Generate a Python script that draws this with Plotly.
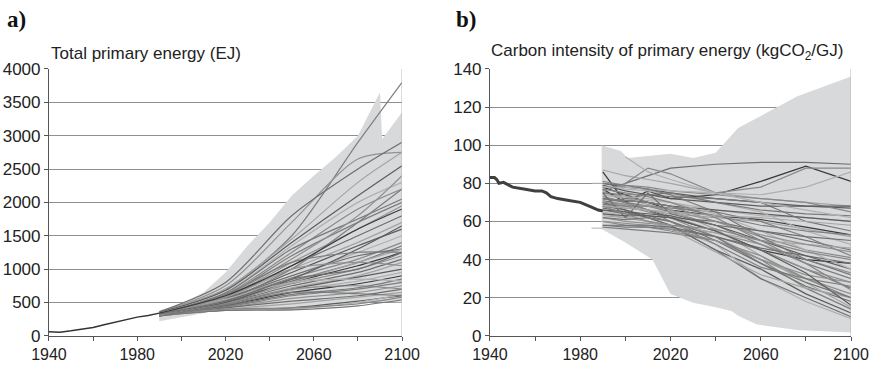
import plotly.graph_objects as go

# ---------------- Panel a: Total primary energy (EJ) ----------------
hist_a_years = [1940, 1943, 1945, 1950, 1955, 1960, 1965, 1970, 1975, 1980, 1985, 1990]
hist_a_vals = [60, 62, 55, 75, 95, 125, 165, 205, 240, 280, 305, 340]

env_a_up_years = [1990, 2000, 2010, 2020, 2030, 2040, 2050, 2060, 2070, 2080, 2090, 2091, 2100]
env_a_up_vals = [380, 480, 650, 950, 1350, 1700, 2100, 2400, 2680, 3000, 3650, 2950, 3350]
env_a_lo_years = [1990, 2000, 2010, 2020, 2030, 2040, 2050, 2060, 2070, 2080, 2090, 2100]
env_a_lo_vals = [220, 280, 340, 400, 380, 370, 380, 420, 460, 500, 510, 500]

scen_a_years = [1990, 2020, 2050, 2080, 2100]
scen_a = [
    [350, 700, 1500, 2900, 3800],
    [350, 750, 1700, 2650, 2750],
    [360, 800, 1800, 2500, 2900],
    [340, 700, 1450, 2300, 2750],
    [350, 680, 1400, 2100, 2550],
    [340, 650, 1350, 2000, 2300],
    [330, 620, 1250, 1900, 2200],
    [340, 640, 1300, 1750, 2050],
    [330, 600, 1200, 1700, 2000],
    [320, 580, 1100, 1600, 1950],
    [330, 560, 1050, 1500, 1800],
    [320, 570, 1000, 1400, 1700],
    [310, 550, 950, 1350, 1600],
    [320, 540, 900, 1250, 1500],
    [330, 530, 870, 1150, 1400],
    [310, 520, 820, 1100, 1350],
    [300, 500, 800, 1050, 1250],
    [320, 510, 780, 1000, 1200],
    [310, 490, 750, 950, 1150],
    [300, 480, 720, 900, 1100],
    [310, 470, 700, 880, 1000],
    [300, 460, 680, 820, 950],
    [320, 450, 650, 780, 900],
    [300, 440, 620, 720, 850],
    [310, 430, 600, 700, 800],
    [300, 420, 560, 650, 750],
    [310, 420, 520, 600, 700],
    [300, 400, 480, 580, 650],
    [310, 380, 420, 520, 600],
    [300, 390, 400, 500, 620],
    [320, 400, 420, 480, 580],
    [300, 380, 390, 450, 540],
    [340, 540, 1000, 1700, 2200],
    [330, 600, 1150, 1800, 2400],
    [320, 560, 900, 1200, 1300],
    [330, 520, 800, 1100, 1300],
    [300, 500, 850, 1300, 1650],
    [340, 550, 800, 850, 820],
    [310, 480, 700, 750, 700],
    [300, 460, 650, 630, 600],
    [320, 620, 1100, 1250, 1250],
    [310, 580, 1000, 1100, 1050],
    [330, 520, 850, 1000, 1250],
    [340, 600, 1050, 1600, 1900],
]

# ---------------- Panel b: Carbon intensity (kgCO2/GJ) ----------------
hist_b_years = [1940, 1942, 1943, 1944, 1946, 1950, 1955, 1960, 1963, 1965, 1967, 1970, 1975, 1980, 1985, 1988, 1990]
hist_b_vals = [83, 83, 82, 80, 80.5, 78, 77, 76, 76, 75, 73, 72, 71, 70, 67.5, 66, 65.5]

env_b_up_years = [1989.5, 1998, 2001, 2020, 2030, 2040, 2050, 2058, 2076, 2100]
env_b_up_vals = [100, 97, 93.3, 95.5, 93.3, 96, 109, 114, 125.5, 136]
env_b_lo_years = [1989.5, 2000, 2012, 2020, 2030, 2040, 2047, 2050, 2058, 2076, 2100]
env_b_lo_vals = [56, 49, 40, 22, 17.4, 15, 13, 10.5, 6, 3, 1.7]

scen_b_years = [1990, 2000, 2010, 2020, 2040, 2060, 2080, 2100]
scen_b = [
    [78, 74, 70, 66, 63, 61, 57, 53],
    [86, 70, 76, 72, 74, 81, 89, 81],
    [None, 80, 84, 88, 90, 91, 91, 90],
    [87, 84, 82, 80, 75, 72, 70, 68],
    [80, 78, 77, 75, 72, 70, 68, 67],
    [76, 72, 71, 70, 66, 63, 62, 60],
    [75, 73, 70, 68, 60, 52, 45, 41],
    [77, 70, 66, 62, 55, 45, 40, 38],
    [72, 70, 68, 65, 58, 48, 38, 30],
    [70, 68, 65, 62, 52, 40, 30, 22],
    [68, 66, 63, 60, 50, 38, 26, 18],
    [74, 72, 69, 66, 56, 42, 28, 15],
    [70, 66, 62, 58, 45, 35, 22, 12],
    [65, 63, 60, 57, 48, 30, 18, 9],
    [60, 58, 57, 55, 50, 42, 30, 20],
    [58, 57, 57, 56, 52, 45, 35, 25],
    [57, 56, 55, 54, 50, 40, 25, 14],
    [62, 60, 59, 58, 54, 48, 40, 33],
    [66, 64, 63, 62, 60, 55, 50, 45],
    [69, 67, 66, 64, 62, 60, 56, 52],
    [72, 71, 70, 68, 66, 64, 62, 60],
    [79, 77, 76, 74, 70, 65, 55, 48],
    [81, 79, 78, 76, 74, 72, 70, 65],
    [75, 74, 74, 73, 72, 70, 60, 55],
    [73, 70, 66, 60, 48, 36, 30, 26],
    [71, 69, 66, 63, 55, 45, 35, 28],
    [67, 65, 62, 58, 45, 30, 20, 10],
    [64, 62, 60, 56, 44, 32, 25, 20],
    [79, 76, 74, 72, 70, 68, 68, 68],
    [78, 78, 77, 76, 75, 74, 78, 86],
    [76, 80, 88, 85, 75, 78, 88, 88],
    [70, 72, 74, 75, 70, 66, 64, 63],
    [69, 68, 68, 67, 65, 60, 52, 42],
    [60, 59, 58, 56, 50, 40, 32, 28],
    [58, 58, 58, 57, 52, 46, 42, 38],
    [63, 62, 60, 58, 54, 50, 48, 46],
    [66, 65, 64, 63, 58, 50, 42, 35],
    [74, 73, 72, 70, 64, 55, 45, 35],
    [77, 75, 73, 70, 62, 50, 38, 24],
    [80, 79, 77, 74, 65, 52, 40, 32],
    [72, 71, 70, 68, 63, 58, 55, 53],
    [70, 69, 68, 66, 60, 53, 48, 44],
    [75, 62, 75, 64, 58, 55, 52, 50],
    [68, 67, 66, 65, 63, 62, 60, 58],
    [64, 63, 63, 62, 55, 45, 33, 16],
    [None, 94, 86, 82, 75, 70, 66, 62],
    [68, 64, 60, 58, 56, 50, 44, 40],
    [62, 61, 62, 60, 52, 38, 28, 20],
]
early_b_years = [1985, 1990]
early_b = [[56.5, 56.5], [80, 80]]

grays = ['#7e7e7e', '#929292', '#6e6e6e', '#a4a4a4', '#5c5c5c', '#b0b0b0', '#888888', '#777777']
dark_a = {16, 22, 43}
dark_b = {0, 1, 7}

fig = go.Figure()

# Panel a
fig.add_trace(go.Scatter(
    x=env_a_up_years + env_a_lo_years[::-1], y=env_a_up_vals + env_a_lo_vals[::-1],
    fill='toself', fillcolor='#d8d9db', line=dict(width=0), mode='lines',
    xaxis='x', yaxis='y', hoverinfo='skip'))
for i, s in enumerate(scen_a):
    col = '#3a3a3a' if i in dark_a else grays[i % len(grays)]
    fig.add_trace(go.Scatter(x=scen_a_years, y=s, mode='lines',
                             line=dict(color=col, width=1.2, shape='spline', smoothing=0.8),
                             xaxis='x', yaxis='y'))
fig.add_trace(go.Scatter(x=hist_a_years, y=hist_a_vals, mode='lines',
                         line=dict(color='#333333', width=1.5), xaxis='x', yaxis='y'))

# Panel b
fig.add_trace(go.Scatter(
    x=env_b_up_years + env_b_lo_years[::-1], y=env_b_up_vals + env_b_lo_vals[::-1],
    fill='toself', fillcolor='#d8d9db', line=dict(width=0), mode='lines',
    xaxis='x2', yaxis='y2', hoverinfo='skip'))
for s in early_b:
    fig.add_trace(go.Scatter(x=early_b_years, y=s, mode='lines',
                             line=dict(color='#b0b0b0', width=1), xaxis='x2', yaxis='y2'))
for i, s in enumerate(scen_b):
    col = '#3a3a3a' if i in dark_b else grays[i % len(grays)]
    fig.add_trace(go.Scatter(x=scen_b_years, y=s, mode='lines',
                             line=dict(color=col, width=1.2),
                             xaxis='x2', yaxis='y2'))
fig.add_trace(go.Scatter(x=hist_b_years, y=hist_b_vals, mode='lines',
                         line=dict(color='#404040', width=3), xaxis='x2', yaxis='y2'))

ytickfont = dict(family='Liberation Sans, Arial, sans-serif', size=17, color='#222222')
xtickfont = dict(family='Liberation Sans, Arial, sans-serif', size=16, color='#222222')
xcommon = dict(range=[1940, 2100], tickvals=[1940, 1980, 2020, 2060, 2100],
               ticks='outside', ticklen=4, tickcolor='#555555',
               minor=dict(tickvals=[1960, 2000, 2040, 2080], ticks='outside', ticklen=4, tickcolor='#555555'),
               showline=True, linecolor='#555555', linewidth=1, showgrid=False,
               zeroline=False, tickfont=xtickfont, fixedrange=True)
ycommon = dict(ticks='outside', ticklen=4, tickcolor='#555555', showline=True,
               linecolor='#555555', linewidth=1, showgrid=True, gridcolor='#8f8f8f',
               gridwidth=1, zeroline=False, tickfont=ytickfont, fixedrange=True)

fig.update_layout(
    width=874, height=365,
    margin=dict(l=0, r=0, t=0, b=0, autoexpand=False),
    paper_bgcolor='white', plot_bgcolor='white',
    showlegend=False,
    xaxis=dict(domain=[0.056, 0.46], anchor='y', **xcommon),
    yaxis=dict(domain=[0.08, 0.811], anchor='x', range=[0, 4000], dtick=500, **ycommon),
    xaxis2=dict(domain=[0.5606, 0.9737], anchor='y2', **xcommon),
    yaxis2=dict(domain=[0.08, 0.811], anchor='x2', range=[0, 140], dtick=20, **ycommon),
    shapes=[
        dict(type='line', xref='x', yref='y domain', x0=2100, x1=2100, y0=0, y1=1,
             line=dict(color='#b5b5b5', width=1)),
        dict(type='line', xref='x2', yref='y2 domain', x0=2100, x1=2100, y0=0, y1=1,
             line=dict(color='#b5b5b5', width=1)),
    ],
    annotations=[
        dict(text='<b>a)</b>', xref='paper', yref='paper', x=0.006, y=0.985, xanchor='left', yanchor='top',
             showarrow=False, font=dict(family='Liberation Serif, Times New Roman, serif', size=23, color='#111111')),
        dict(text='<b>b)</b>', xref='paper', yref='paper', x=0.519, y=0.985, xanchor='left', yanchor='top',
             showarrow=False, font=dict(family='Liberation Serif, Times New Roman, serif', size=23, color='#111111')),
        dict(text='Total primary energy (EJ)', xref='paper', yref='paper', x=0.056, y=0.822,
             xanchor='left', yanchor='bottom', showarrow=False,
             font=dict(family='Liberation Sans, Arial, sans-serif', size=17, color='#222222')),
        dict(text='Carbon intensity of primary energy (kgCO<sub>2</sub>/GJ)', xref='paper', yref='paper',
             x=0.559, y=0.822, xanchor='left', yanchor='bottom', showarrow=False,
             font=dict(family='Liberation Sans, Arial, sans-serif', size=17, color='#222222')),
    ],
)

fig.write_html('out.html', config={'displayModeBar': False},
               post_script="document.body.style.margin='0px';document.body.style.overflow='hidden';")
